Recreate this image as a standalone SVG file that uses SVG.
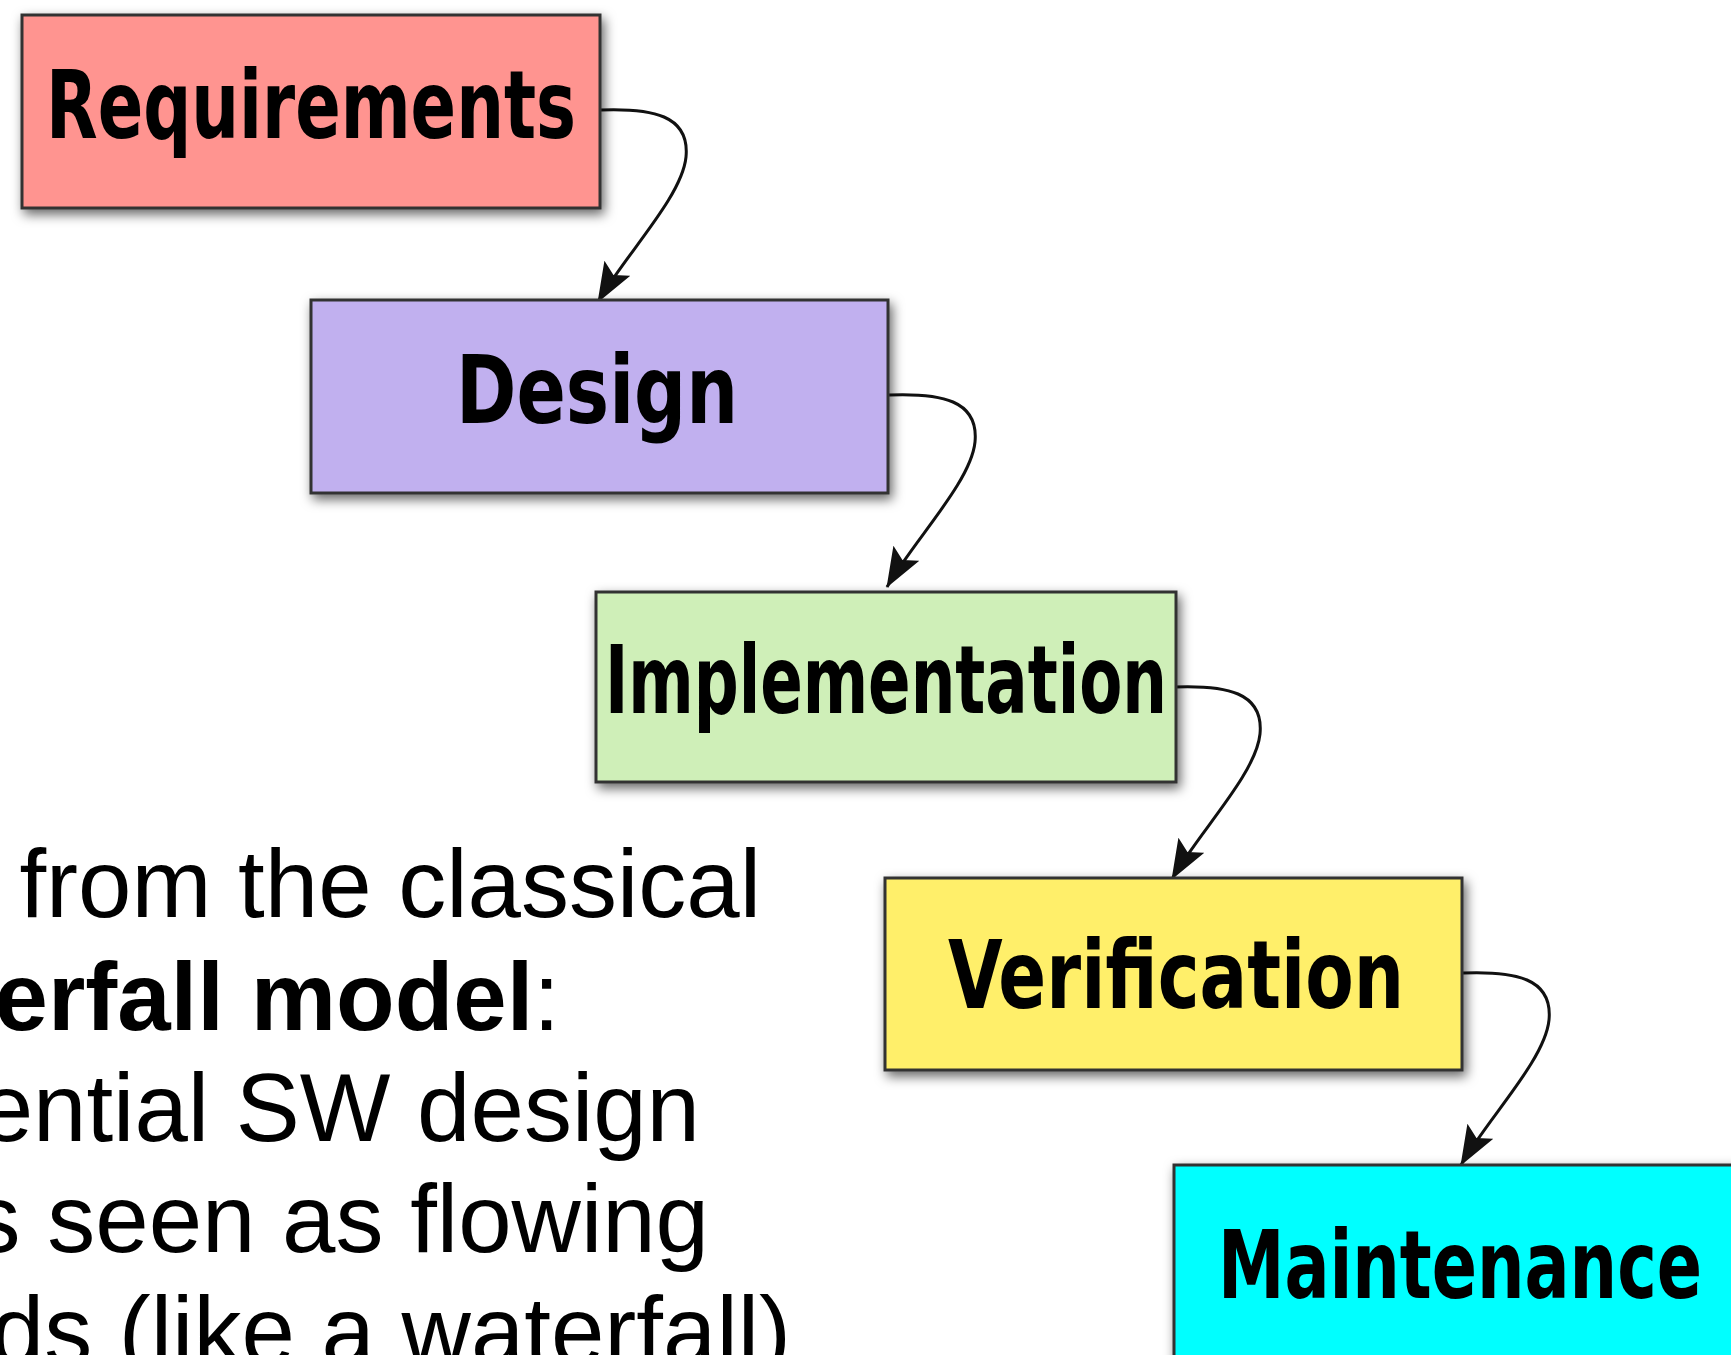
<svg xmlns="http://www.w3.org/2000/svg" width="1731" height="1355" viewBox="0 0 1731 1355">
<style>
.box{stroke:#333;stroke-width:3;filter:url(#sh)}
.lbl{font-family:"DejaVu Sans Condensed","DejaVu Sans",sans-serif;font-weight:bold;font-size:95px;fill:#000;text-anchor:middle}
.body{font-family:"Liberation Sans",Arial,sans-serif;font-size:96px;fill:#000;text-anchor:end}
.conn{fill:none;stroke:#111;stroke-width:3;marker-end:url(#ah)}
</style>
<defs>
<filter id="sh" x="-10%" y="-10%" width="125%" height="135%">
<feDropShadow dx="3" dy="5" stdDeviation="6" flood-color="#000" flood-opacity="0.6"/>
</filter>
<marker id="ah" markerUnits="userSpaceOnUse" viewBox="0 0 40 30" markerWidth="40" markerHeight="30" refX="39" refY="15" orient="auto">
<path d="M0,0 L40,15 L0,30 L8,15 z" fill="#111"/>
</marker>
</defs>
<rect width="1731" height="1355" fill="#fff"/>
<g id="text">
<text class="body" x="761" y="917">from the classical</text>
<text class="body" x="560" y="1030"><tspan font-weight="bold">erfall model</tspan>:</text>
<text class="body" x="700" y="1141">ential SW design</text>
<text class="body" x="709" y="1252">s seen as flowing</text>
<text class="body" x="791" y="1364">ds (like a waterfall)</text>
</g>
<g id="connectors">
<path class="conn" transform="translate(22,15)" d="M578,95 C630,93 668,100 664,142 C660,182 603,240 576,287"/>
<path class="conn" transform="translate(311,300)" d="M578,95 C630,93 668,100 664,142 C660,182 603,240 576,287"/>
<path class="conn" transform="translate(596,592)" d="M578,95 C630,93 668,100 664,142 C660,182 603,240 576,287"/>
<path class="conn" transform="translate(885,878)" d="M578,95 C630,93 668,100 664,142 C660,182 603,240 576,287"/>
</g>
<g id="requirements">
<rect class="box" x="22" y="15" width="578" height="193" fill="#FF9490"/>
<text class="lbl" x="311" y="138" textLength="530" lengthAdjust="spacingAndGlyphs">Requirements</text>
</g>
<g id="design">
<rect class="box" x="311" y="300" width="577" height="193" fill="#C1B0EF"/>
<text class="lbl" x="597" y="423" textLength="282" lengthAdjust="spacingAndGlyphs">Design</text>
</g>
<g id="implementation">
<rect class="box" x="596" y="592" width="580" height="190" fill="#CFEFB8"/>
<text class="lbl" x="886" y="713" textLength="562" lengthAdjust="spacingAndGlyphs">Implementation</text>
</g>
<g id="verification">
<rect class="box" x="885" y="878" width="577" height="192" fill="#FFEF6B"/>
<text class="lbl" x="1176" y="1008" textLength="456" lengthAdjust="spacingAndGlyphs">Verification</text>
</g>
<g id="maintenance">
<rect class="box" x="1174" y="1165" width="578" height="200" fill="#00FFFF"/>
<text class="lbl" x="1460" y="1298" textLength="484" lengthAdjust="spacingAndGlyphs">Maintenance</text>
</g>
</svg>
